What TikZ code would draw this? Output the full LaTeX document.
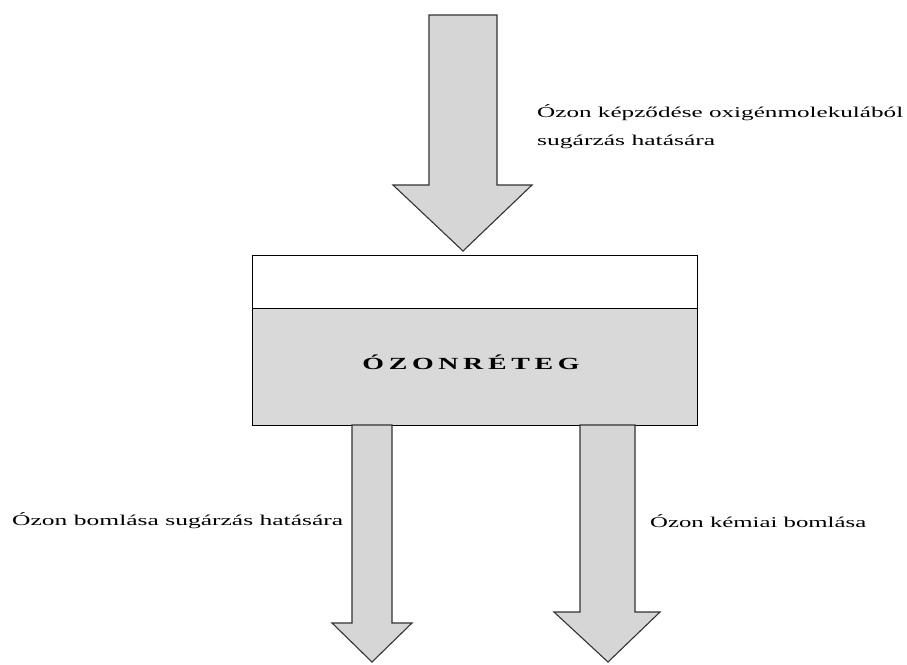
\documentclass[tikz,border=0pt]{standalone}
\usepackage{fontspec}
\setmainfont{Liberation Serif}
\definecolor{arrfill}{HTML}{D6D6D6}
\definecolor{boxfill}{HTML}{D9D9D9}
\definecolor{arrline}{HTML}{333333}
\tikzset{
  blockarrow/.style={fill=arrfill, draw=arrline, line width=1.1pt, line join=miter},
  lbl/.style={inner sep=0pt, anchor=west, font=\fontsize{15}{18}\selectfont},
  layer/.style={draw=black, line width=1.2pt, inner sep=0pt, minimum width=445pt}
}
\begin{document}
\begin{tikzpicture}[x=1pt,y=-1pt]
\useasboundingbox (0,0) rectangle (907,664);
% ozone layer box
\node[layer, fill=white, minimum height=53pt, anchor=north west] (top) at (252,255) {};
\node[layer, fill=boxfill, minimum height=117pt, anchor=north west] (ozon) at (252,308) {};
\node[inner sep=0pt, font=\fontsize{17}{20}\selectfont\bfseries] (ozlbl) at (471,362)
  {\resizebox{217pt}{\height}{Ó\,Z\,O\,N\,R\,É\,T\,E\,G}};
% top arrow
\draw[blockarrow] (429,15) -- (497,15) -- (497,185) -- (532,185) -- (463,251)
  -- (393,185) -- (429,185) -- cycle;
% bottom left arrow
\draw[blockarrow] (352,425) -- (392,425) -- (392,623) -- (412,623) -- (372,662)
  -- (332,623) -- (352,623) -- cycle;
% bottom right arrow
\draw[blockarrow] (580,425) -- (635,425) -- (635,612) -- (660,612) -- (608,662)
  -- (554,612) -- (580,612) -- cycle;
% labels
\node[lbl] (t1) at (537,113) {\resizebox{366pt}{\height}{Ózon képződése oxigénmolekulából}};
\node[lbl] (t2) at (537,142) {\resizebox{178pt}{\height}{sugárzás hatására}};
\node[lbl] (t3) at (12,521) {\resizebox{331pt}{\height}{Ózon bomlása sugárzás hatására}};
\node[lbl] (t4) at (650,521) {\resizebox{216pt}{\height}{Ózon kémiai bomlása}};
\end{tikzpicture}
\end{document}
